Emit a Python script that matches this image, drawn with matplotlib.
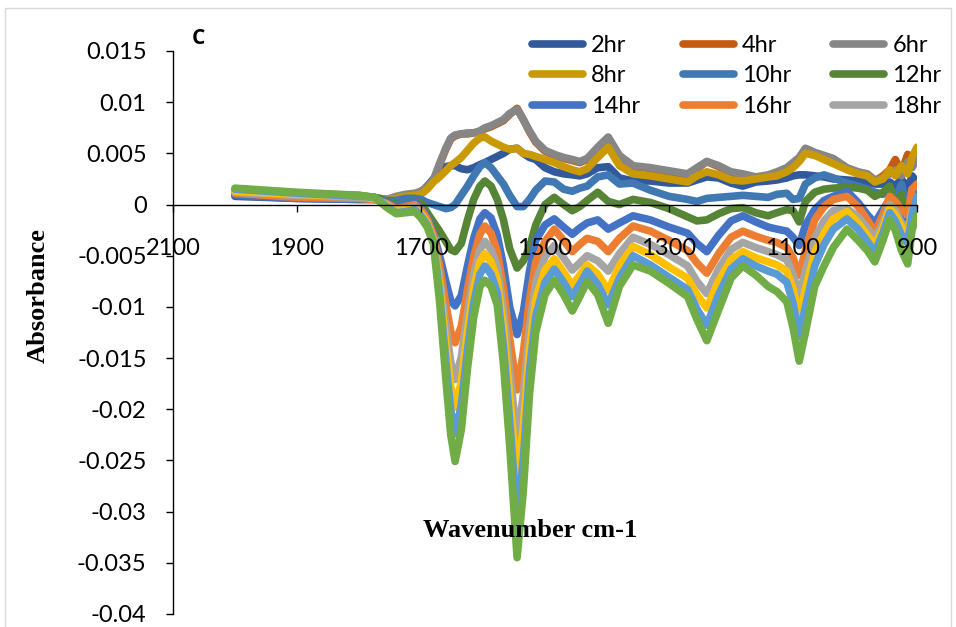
import numpy as np
import matplotlib
matplotlib.use('Agg')
import matplotlib.pyplot as plt
from matplotlib.patches import Rectangle

### Dados: absorbância em unidades de 1e-3, por tempo de exposição

wavenumber = [
    2000, 1900, 1800, 1775, 1755, 1740, 1725, 1710, 1700, 1690,
    1680, 1670, 1660, 1652, 1645, 1635, 1625, 1615, 1605, 1597,
    1587, 1577, 1567, 1557, 1545, 1535, 1525, 1515, 1500, 1485,
    1470, 1456, 1444, 1432, 1415, 1398, 1380, 1358, 1330, 1300,
    1270, 1255, 1239, 1220, 1200, 1181, 1160, 1140, 1126, 1110,
    1100, 1090, 1080, 1065, 1050, 1035, 1013, 995, 980, 968,
    955, 944, 935, 925, 915, 908, 900]

hr2 = [
    0.8, 0.6, 0.5, 0.5, 0.4, 0.6, 0.9, 1.0, 1.2, 1.8,
    2.5, 3.2, 3.7, 3.8, 3.8, 3.5, 3.4, 3.6, 3.9, 4.1,
    4.4, 4.7, 5.0, 5.4, 5.5, 5.0, 4.6, 4.4, 3.6, 3.2,
    3.0, 2.9, 2.8, 3.0, 3.6, 3.7, 2.6, 2.3, 2.3, 2.1,
    2.1, 2.4, 2.7, 2.6, 2.1, 1.8, 2.2, 2.3, 2.4, 2.6,
    2.8, 2.9, 2.9, 2.8, 2.7, 2.5, 2.4, 2.3, 2.2, 2.0,
    2.0, 2.2, 1.8, 2.5, 1.5, 2.8, 2.2]
hr4 = [
    1.0, 0.8, 0.7, 0.6, 0.5, 0.7, 0.9, 1.0, 1.3, 1.6,
    2.3, 3.9, 5.4, 6.4, 6.7, 6.9, 6.9, 7.0, 7.1, 7.4,
    7.6, 7.9, 8.2, 8.8, 9.4, 8.3, 7.1, 6.1, 5.2, 4.8,
    4.5, 4.3, 4.1, 4.4, 5.5, 6.5, 4.7, 3.7, 3.5, 3.2,
    2.9, 3.5, 4.2, 3.7, 3.1, 2.9, 2.6, 2.8, 3.1, 3.5,
    4.0, 4.5, 5.4, 5.0, 4.7, 4.4, 3.5, 3.1, 2.9, 2.3,
    2.8, 3.4, 4.4, 3.2, 4.9, 3.8, 4.8]
hr6 = [
    1.1, 0.9, 0.7, 0.6, 0.5, 0.8, 1.0, 1.1, 1.3, 1.7,
    2.4, 4.0, 5.5, 6.5, 6.8, 6.9, 7.0, 7.0, 7.2, 7.5,
    7.7, 8.0, 8.3, 8.9, 9.3, 8.3, 7.2, 6.2, 5.3, 4.9,
    4.6, 4.4, 4.2, 4.5, 5.6, 6.6, 4.8, 3.8, 3.6, 3.3,
    3.0, 3.6, 4.2, 3.8, 3.2, 3.0, 2.7, 2.9, 3.2, 3.6,
    4.1, 4.6, 5.5, 5.1, 4.8, 4.5, 3.6, 3.2, 3.0, 2.4,
    2.6, 3.0, 3.4, 2.8, 4.2, 3.6, 4.5]
hr8 = [
    1.2, 1.0, 0.8, 0.7, 0.5, 0.6, 0.8, 0.9, 1.0, 1.5,
    2.2, 2.7, 3.3, 3.8, 4.1, 4.6, 5.3, 6.0, 6.5, 6.6,
    6.2, 5.9, 5.6, 5.4, 5.5, 5.0, 4.9, 4.7, 4.4, 4.1,
    3.7, 3.4, 3.2, 3.5, 4.6, 5.6, 3.8, 3.0, 2.8, 2.5,
    2.2, 2.8, 3.2, 2.9, 2.4, 2.3, 2.5, 2.7, 2.8, 3.2,
    3.6, 4.2, 5.0, 4.8, 4.4, 4.0, 3.4, 3.0, 2.8, 2.2,
    2.5, 3.4, 2.8, 3.8, 3.0, 4.6, 5.6]
hr10 = [
    1.3, 1.0, 0.8, 0.7, 0.4, 0.4, 0.6, 0.6, 0.5, 0.2,
    0.0, -0.2, -0.4, -0.3, 0.0, 0.9, 1.8, 2.8, 3.7, 4.1,
    3.6, 2.8, 2.0, 0.9, -0.2, -0.2, 0.5, 1.4, 2.3, 2.2,
    1.5, 1.3, 1.6, 1.8, 2.7, 2.9, 2.0, 2.1, 1.4, 0.8,
    0.5, 0.3, 0.6, 0.7, 0.8, 0.9, 0.8, 0.7, 1.0, 1.1,
    0.5, 0.6, 2.0, 2.6, 2.9, 2.6, 2.1, 1.8, 1.5, 1.2,
    1.0, 1.5, 0.5, 2.0, -0.5, 1.5, 0.5]
hr12 = [
    1.4, 1.1, 0.9, 0.7, 0.3, 0.0, 0.0, 0.2, 0.2, -0.8,
    -1.7, -2.6, -3.6, -4.4, -4.6, -3.8, -1.5, 0.5, 1.8, 2.3,
    1.8, 0.5, -1.5, -4.3, -6.2, -5.5, -4.2, -2.0, 0.0, 0.7,
    0.0, -0.6, -0.2, 0.4, 1.2, 0.3, 0.0, 0.5, 0.2, -0.4,
    -1.2, -1.6, -1.5, -0.9, -0.4, -0.3, -0.8, -1.1, -0.8, -0.5,
    -0.6, -1.7, 0.3, 1.2, 1.5, 1.6, 1.7, 1.6, 1.4, 0.8,
    1.2, 1.8, 0.0, 1.0, -1.0, 0.5, 0.0]
hr14 = [
    0.9, 0.6, 0.5, 0.5, 0.2, -0.2, 0.0, 0.2, -0.3, -1.2,
    -2.8, -5.0, -7.5, -9.4, -9.9, -8.9, -6.0, -3.3, -1.4, -0.8,
    -1.3, -3.0, -6.0, -10.0, -12.7, -10.5, -6.5, -3.5, -2.0, -1.4,
    -2.2, -2.9, -2.3, -1.8, -1.5, -2.4, -1.8, -1.1, -1.5, -2.2,
    -2.8, -3.8, -4.6, -3.0, -1.6, -1.1, -1.7, -2.2, -2.4, -2.6,
    -3.2, -4.0, -2.0, -0.5, 0.4, 0.8, 1.3, 0.2, -1.0, -1.8,
    -0.5, 0.5, -0.5, -1.5, -2.0, 0.0, 0.5]
hr16 = [
    1.1, 0.7, 0.6, 0.5, 0.1, -0.4, -0.2, 0.0, -0.5, -1.4,
    -3.0, -6.0, -9.7, -12.4, -13.5, -11.9, -8.3, -5.1, -2.9, -2.1,
    -2.8, -4.6, -8.2, -13.1, -18.1, -14.5, -9.3, -5.6, -3.6, -2.4,
    -3.5, -4.6, -3.9, -3.3, -3.6, -4.6, -3.3, -2.1, -2.6, -3.5,
    -4.5, -5.7, -6.7, -4.8, -3.2, -2.6, -3.1, -3.5, -3.7, -4.2,
    -5.2, -6.9, -4.5, -1.5, -0.2, 0.5, 0.8, -0.2, -1.5, -2.7,
    -1.0, 0.8, 0.3, -0.5, -1.0, 1.5, 2.0]
hr18 = [
    1.2, 0.9, 0.7, 0.6, 0.0, -0.5, -0.4, -0.2, -0.8, -1.7,
    -3.3, -7.1, -11.9, -15.4, -17.1, -14.9, -10.6, -6.8, -4.4, -3.6,
    -4.4, -6.1, -10.4, -16.2, -23.0, -18.6, -12.0, -7.6, -5.1, -4.0,
    -5.2, -6.4, -5.7, -5.0, -5.5, -6.5, -4.8, -3.2, -3.9, -4.9,
    -6.0, -7.5, -8.7, -6.3, -4.4, -3.7, -4.2, -4.6, -4.9, -5.4,
    -6.8, -8.9, -6.5, -3.3, -1.6, -0.6, -0.4, -1.2, -2.3, -3.3,
    -1.8, 0.0, -0.6, -1.8, -2.5, -0.5, 0.0]
hr20 = [
    1.3, 1.0, 0.8, 0.6, -0.1, -0.6, -0.5, -0.4, -0.9, -1.8,
    -3.4, -7.9, -13.6, -17.8, -19.8, -17.3, -12.4, -8.2, -5.6, -4.8,
    -5.6, -7.4, -12.1, -18.6, -26.9, -21.7, -14.2, -9.3, -6.4, -5.3,
    -6.6, -7.9, -6.9, -5.9, -6.8, -8.4, -6.0, -4.1, -4.9, -6.1,
    -7.2, -8.8, -10.1, -7.5, -5.4, -4.6, -5.2, -5.6, -5.9, -6.5,
    -8.2, -11.1, -8.3, -4.7, -2.8, -1.4, -0.7, -1.8, -3.0, -4.0,
    -2.3, -0.4, -1.0, -2.2, -3.0, -0.8, 0.2]
hr22 = [
    1.5, 1.1, 0.8, 0.7, -0.2, -0.8, -0.7, -0.5, -1.1, -2.0,
    -3.6, -8.7, -15.3, -20.1, -22.4, -19.6, -14.2, -9.6, -6.8, -6.0,
    -6.8, -8.6, -13.9, -21.1, -30.8, -24.9, -16.3, -10.9, -7.6, -6.3,
    -7.6, -9.0, -7.8, -6.5, -7.8, -9.8, -7.2, -5.0, -5.9, -7.1,
    -8.3, -10.2, -11.8, -8.8, -6.3, -5.3, -6.0, -6.5, -6.8, -7.6,
    -9.6, -12.9, -10.0, -6.0, -3.9, -2.4, -1.4, -2.4, -3.6, -4.7,
    -2.8, -0.8, -1.6, -3.0, -3.8, -1.0, 0.8]
hr24 = [
    1.6, 1.2, 0.9, 0.7, -0.3, -0.9, -0.8, -0.7, -1.3, -2.2,
    -3.8, -9.5, -17.0, -22.5, -25.1, -22.0, -16.0, -11.0, -8.0, -7.4,
    -8.0, -9.8, -15.6, -23.5, -34.5, -28.0, -18.5, -12.5, -8.8, -7.4,
    -8.8, -10.4, -9.0, -7.5, -8.8, -11.6, -8.0, -5.9, -6.5, -7.7,
    -9.0, -11.2, -13.3, -10.3, -7.2, -6.0, -6.9, -8.0, -8.5, -9.5,
    -12.0, -15.3, -12.5, -8.0, -6.0, -4.2, -2.4, -3.5, -4.5, -5.6,
    -3.5, -1.5, -2.5, -4.5, -5.8, -2.5, -1.0]

series = [hr2, hr4, hr6, hr8, hr10, hr12, hr14, hr16, hr18, hr20, hr22, hr24]
labels = ['2hr', '4hr', '6hr', '8hr', '10hr', '12hr',
          '14hr', '16hr', '18hr', '20hr', '22hr', '24hr']
colors = ['#32599c', '#c55a11', '#868686', '#c99a06', '#3f78b3', '#568536',
          '#4472c4', '#ed7d31', '#a5a5a5', '#ffc000', '#5b9bd5', '#70ad47']

xticks = [2100, 1900, 1700, 1500, 1300, 1100, 900]
yticks = [-0.04, -0.035, -0.03, -0.025, -0.02, -0.015, -0.01, -0.005,
          0, 0.005, 0.01, 0.015]
ytick_labels = ['-0.04', '-0.035', '-0.03', '-0.025', '-0.02', '-0.015',
                '-0.01', '-0.005', '0', '0.005', '0.01', '0.015']

### Figura

plt.rcParams['font.family'] = ['Lato', 'DejaVu Sans']

W, H = 956, 627
fig = plt.figure(figsize=(W / 100, H / 100), dpi=100)
ax = fig.add_axes([173 / W, 1 - 614 / H, 744 / W, 563 / H])

lines = []
for vals, lab, col in zip(series, labels, colors):
    ln, = ax.plot(wavenumber, np.array(vals) / 1000, color=col, lw=5.5,
                  label=lab, solid_joinstyle='round', solid_capstyle='round')
    lines.append(ln)

ax.set_xlim(2100, 900)
ax.set_ylim(-0.04, 0.015)
ax.set_xticks(xticks)
ax.set_xticklabels([str(t) for t in xticks])
ax.set_yticks(yticks)
ax.set_yticklabels(ytick_labels)

# eixo x cruzando em y = 0, desenhado por cima das curvas
ax.set_axisbelow(False)
ax.spines['bottom'].set_position(('data', 0))
ax.spines['top'].set_visible(False)
ax.spines['right'].set_visible(False)
for s in ('left', 'bottom'):
    ax.spines[s].set_linewidth(1.0)
    ax.spines[s].set_color('black')

ax.tick_params(axis='x', direction='out', length=5, width=1, pad=19, labelsize=17)
ax.tick_params(axis='y', direction='out', length=5, width=1, pad=14, labelsize=17)

ax.set_xlabel('Wavenumber cm-1', family='Liberation Serif', fontweight='bold',
              fontsize=19, va='center')
ax.xaxis.set_label_coords(0.48, 0.148)
ax.set_ylabel('Absorbance', family='Liberation Serif', fontweight='bold',
              fontsize=19, va='center')
ax.yaxis.set_label_coords(-0.1815, 0.566)

fig.text(192 / W, 1 - 38 / H, 'C', family='Open Sans', fontweight='bold',
         fontsize=15, va='center')

# a legenda mostra só as nove primeiras séries, preenchida por linhas
order = [0, 3, 6, 1, 4, 7, 2, 5, 8]
ax.legend([lines[i] for i in order], [labels[i] for i in order], ncol=3,
          loc='upper left', bbox_to_anchor=(532 / W, 1 - 35 / H),
          bbox_transform=fig.transFigure, frameon=False, fontsize=17,
          handlelength=2.16, handletextpad=0.34, columnspacing=1.8,
          labelspacing=0.4, borderpad=0, borderaxespad=0)

# moldura da área do gráfico
fig.add_artist(Rectangle((5 / W, -0.01), 946 / W, 1 - 8 / H + 0.01,
                         transform=fig.transFigure, fill=False,
                         edgecolor='#d9d9d9', lw=1))

fig.savefig('out.png', dpi=100)
